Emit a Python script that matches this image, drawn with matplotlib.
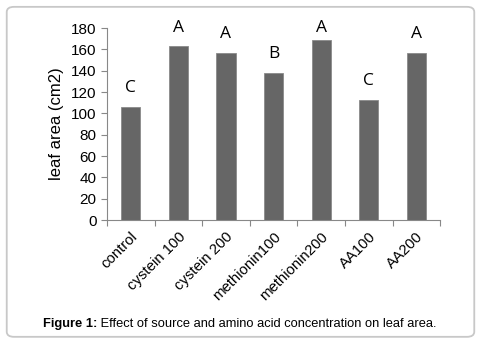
import matplotlib
matplotlib.use("Agg")
import matplotlib.pyplot as plt
from matplotlib.patches import FancyBboxPatch

categories = ["control", "cystein 100", "cystein 200", "methionin100",
              "methionin200", "AA100", "AA200"]
leaf_area = [106, 163, 157, 138, 169, 113, 157]
groups = ["C", "A", "A", "B", "A", "C", "A"]
yticks = [0, 20, 40, 60, 80, 100, 120, 140, 160, 180]

plt.rcParams["font.family"] = ["Liberation Sans", "DejaVu Sans"]

fig = plt.figure(figsize=(4.81, 3.43), dpi=100)

# rounded frame around the whole figure
frame = FancyBboxPatch((0.014, 0.018), 0.972, 0.962,
                       boxstyle="round,pad=0,rounding_size=0.015",
                       transform=fig.transFigure, facecolor="none",
                       edgecolor="#c8c8c8", lw=1.3, zorder=-1)
fig.patches.append(frame)

ax = fig.add_axes([0.2225, 0.3586, 0.6925, 0.5594])
ax.patch.set_alpha(0)
x = range(len(categories))
ax.bar(x, leaf_area, width=0.4, color="#666666", edgecolor="#8a8a8a", lw=0.6)
for i, (v, g) in enumerate(zip(leaf_area, groups)):
    ax.text(i, min(v + 17.5, 180), g, ha="center", va="center",
            fontsize=12.5, family=["Open Sans", "DejaVu Sans"],
            color="black", clip_on=False)

ax.set_xlim(-0.5, len(categories) - 0.5)
ax.set_ylim(0, 180)
ax.set_yticks(yticks)
ax.tick_params(axis="y", labelsize=11, length=4, color="#888888", width=0.8)
ax.set_xticks([i - 0.5 for i in range(len(categories) + 1)], minor=False)
ax.set_xticklabels([])
ax.tick_params(axis="x", length=4, color="#888888", width=0.8)
ax.set_xticks(list(x), minor=True)
ax.set_xticklabels(categories, minor=True, rotation=45, ha="right",
                   rotation_mode="anchor", fontsize=10.7)
ax.tick_params(axis="x", which="minor", length=0, pad=7)
for s in ["top", "right"]:
    ax.spines[s].set_visible(False)
for s in ["left", "bottom"]:
    ax.spines[s].set_color("#888888")
    ax.spines[s].set_linewidth(0.8)
ax.set_ylabel("leaf area (cm2)", fontsize=12, labelpad=5)

t1 = fig.text(0.089, 0.048, "Figure 1:", fontsize=9.3, weight="bold",
              ha="left", va="baseline")
fig.canvas.draw()
ax.annotate(" Effect of source and amino acid concentration on leaf area.",
            xy=(1, 0), xycoords=t1, va="bottom", ha="left", fontsize=9.3,
            annotation_clip=False)

fig.savefig("out.png", dpi=100)
